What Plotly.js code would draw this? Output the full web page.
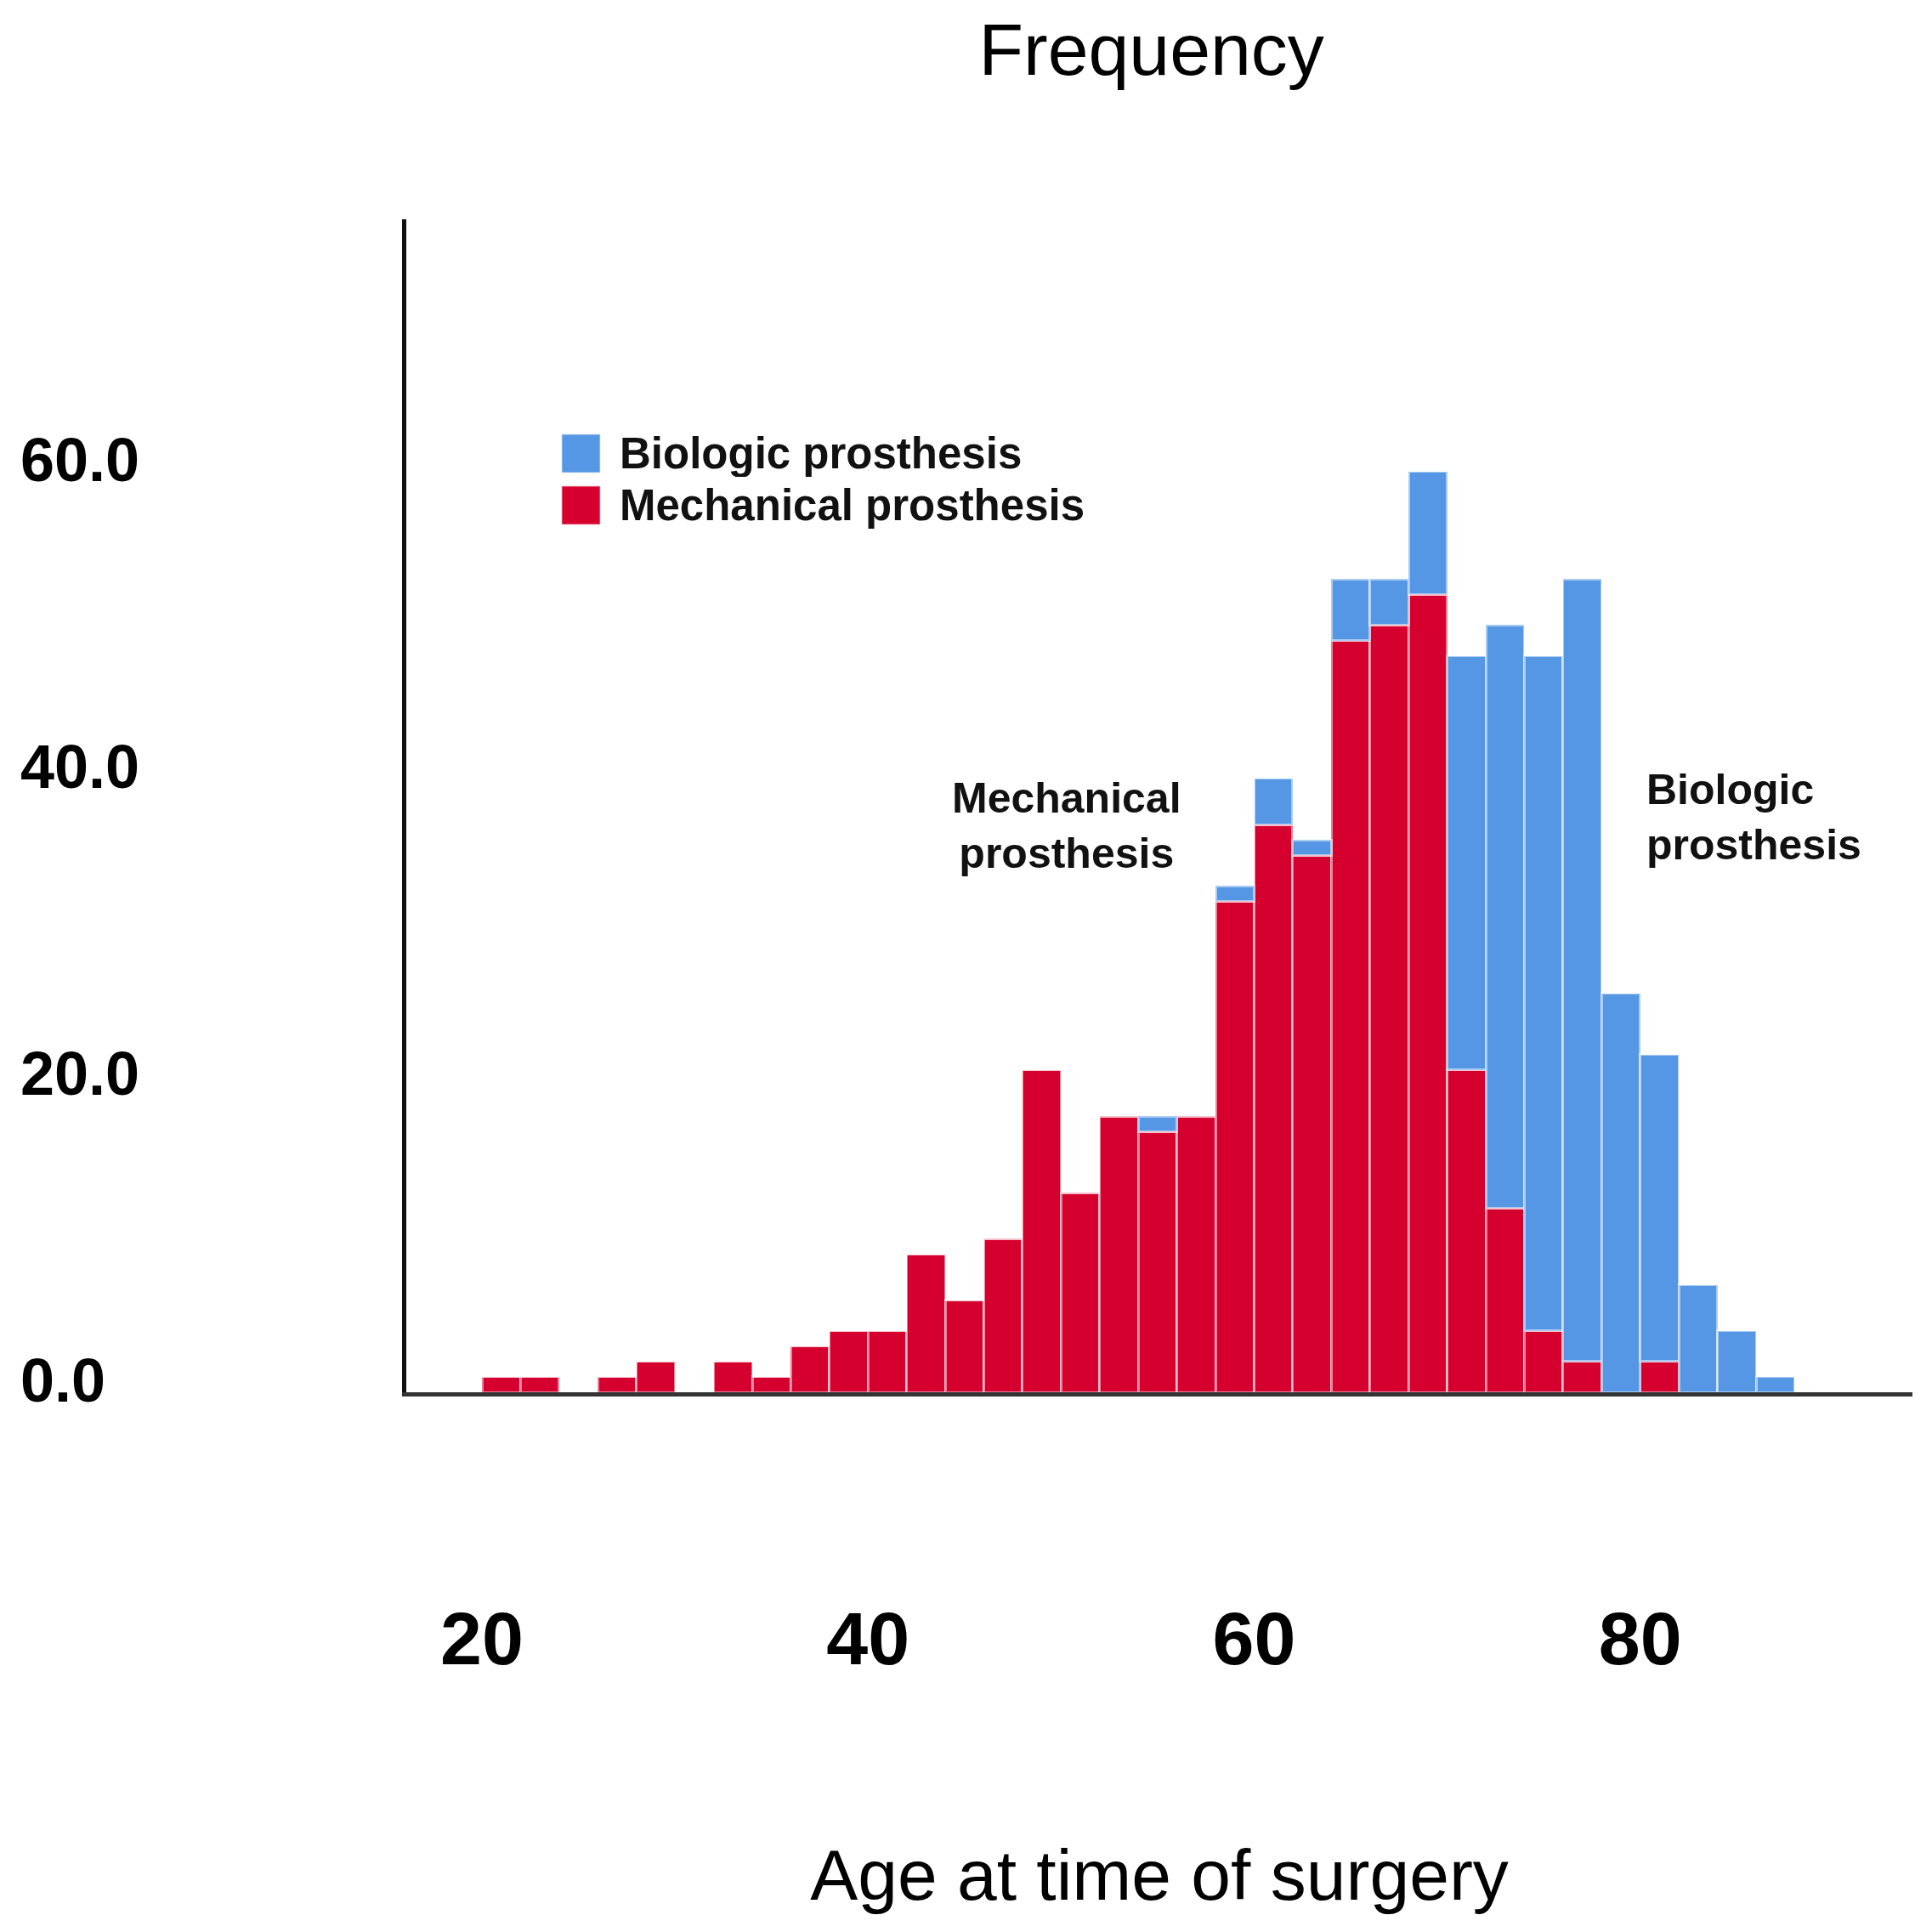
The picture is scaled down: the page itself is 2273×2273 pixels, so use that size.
<!DOCTYPE html>
<html>
<head>
<meta charset="utf-8">
<script src="https://cdn.plot.ly/plotly-3.0.1.min.js"></script>
<style>html,body{margin:0;padding:0;background:#fff;}#chart{width:2273px;height:2273px;}</style>
</head>
<body>
<div id="chart"></div>
<script>
// Bin centres (age, 2-year bins from 20 to 88)
const ageBins = [21,23,25,27,29,31,33,35,37,39,41,43,45,47,49,51,53,55,57,59,61,63,65,67,69,71,73,75,77,79,81,83,85,87];
// Mechanical prosthesis counts (bottom of stack)
const mechanical = [1,1,0,1,2,0,2,1,3,4,4,9,6,10,21,13,18,17,18,32,37,35,49,50,52,21,12,4,2,0,2,0,0,0];
// Biologic prosthesis counts (stacked on top)
const biologic = [0,0,0,0,0,0,0,0,0,0,0,0,0,0,0,0,0,1,0,1,3,1,4,3,8,27,38,44,51,26,20,7,4,1];
const seriesNames = ['Biologic prosthesis','Mechanical prosthesis'];
const xTickVals = [20,40,60,80];
const xTickText = ['20','40','60','80'];
const yTickVals = [0,20,40,60];
const yTickText = ['0.0','20.0','40.0','60.0'];

const BLUE = '#5596E5';
const RED = '#D6002F';
const FONT = 'Liberation Sans, Arial, sans-serif';

const traces = [
  {type:'bar', name:seriesNames[1], x:ageBins, y:mechanical, width:2,
   marker:{color:RED, line:{color:'rgba(255,255,255,0.5)', width:3}}, showlegend:false},
  {type:'bar', name:seriesNames[0], x:ageBins, y:biologic, width:2,
   marker:{color:BLUE, line:{color:'rgba(255,255,255,0.5)', width:3}}, showlegend:false}
];

const annotations = [];
yTickVals.forEach((v,i)=>{
  annotations.push({xref:'paper', yref:'y', x:-0.2573, y:v, xanchor:'left', yanchor:'middle',
    yshift:14, showarrow:false, text:'<b>'+yTickText[i]+'</b>',
    font:{family:FONT, size:72, color:'#000'}});
});
// legend: colour swatches + labels
const legendY = [0.8007, 0.7565];
const legendColors = [BLUE, RED];
seriesNames.forEach((name,i)=>{
  annotations.push({xref:'paper', yref:'paper', x:0.1157, y:legendY[i], xanchor:'center', yanchor:'middle',
    showarrow:false, text:' ', width:44, height:44, borderpad:0, borderwidth:1.5,
    bordercolor:'rgba(255,255,255,0.6)', bgcolor:legendColors[i], font:{size:10}});
  annotations.push({xref:'paper', yref:'paper', x:0.1411, y:legendY[i], xanchor:'left', yanchor:'middle',
    showarrow:false, text:'<b>'+name+'</b>', height:56, borderpad:0,
    font:{family:FONT, size:51, color:'#111'}});
});
// in-plot labels
annotations.push({xref:'x', yref:'y', x:50.3, y:36.9, xanchor:'center', yanchor:'middle', align:'center', showarrow:false,
  text:'<b>Mechanical<br>prosthesis</b>', font:{family:FONT, size:50, color:'#111'}});
annotations.push({xref:'x', yref:'y', x:80.24, y:37.45, xanchor:'left', yanchor:'middle', align:'left', showarrow:false,
  text:'<b>Biologic<br>prosthesis</b>', font:{family:FONT, size:50, color:'#111'}});

const layout = {
  width:2273, height:2273,
  paper_bgcolor:'#fff', plot_bgcolor:'#fff',
  margin:{l:478, r:23, t:258, b:635},
  barmode:'stack', bargap:0,
  title:{text:'Frequency', x:0.596, xanchor:'center', xref:'container', y:0.9745, yanchor:'middle', yref:'container',
    font:{family:FONT, size:86, color:'#000'}},
  xaxis:{range:[16.08,94.1], showgrid:false, zeroline:false, showline:true, linecolor:'#333', linewidth:5,
    ticks:'', tickmode:'array', tickvals:xTickVals, ticktext:xTickText, ticklabelstandoff:209,
    tickfont:{family:FONT, size:88, color:'#000', weight:'bold'},
    title:{text:'Age at time of surgery', standoff:202, font:{family:FONT, size:84, color:'#000'}}},
  yaxis:{range:[0,76.45], showgrid:false, zeroline:false, showline:true, linecolor:'#111', linewidth:5,
    ticks:'', tickvals:yTickVals, showticklabels:false},
  annotations:annotations,
  showlegend:false
};

Plotly.newPlot('chart', traces, layout, {staticPlot:true});
</script>
</body>
</html>
